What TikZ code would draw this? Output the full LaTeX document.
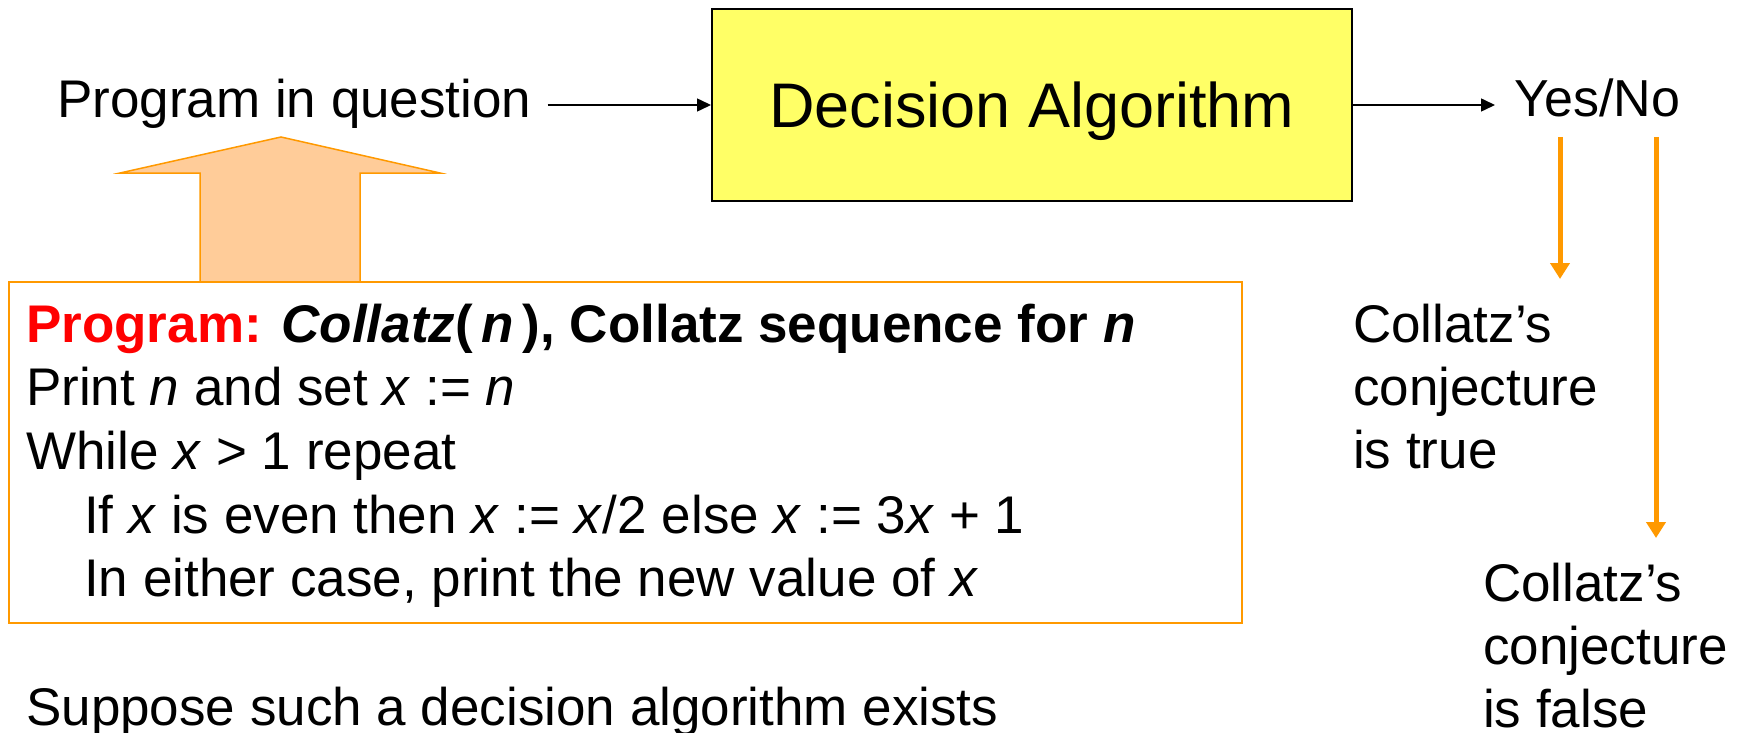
\documentclass[tikz,border=0pt]{standalone}
\usepackage{fontspec}
\setmainfont{Liberation Sans}
\usetikzlibrary{arrows.meta}
\definecolor{boxyellow}{HTML}{FFFF66}
\definecolor{orng}{HTML}{FF9900}
\definecolor{peach}{HTML}{FFCC99}
\begin{document}
\begin{tikzpicture}[x=1pt,y=-1pt,
  lbl/.style={inner sep=0pt, anchor=base west},
  blackarrow/.style={line width=1.5pt, -{Triangle[length=14pt,width=13pt]}},
  orangearrow/.style={draw=orng, line width=5pt, -{Triangle[length=16pt,width=19pt]}},
  multiline/.style={anchor=north west, inner sep=0pt},
]
\useasboundingbox (0,0) rectangle (1745,733);

% top row
\node[lbl, font=\fontsize{53}{63}\selectfont] (pq) at (57,118) {Program in question};
\node[draw, line width=2pt, fill=boxyellow, minimum width=640pt, minimum height=192pt,
      inner sep=0pt, text height=46pt, text depth=0pt,
      font=\fontsize{63}{75}\selectfont] (box) at (1032,105) {Decision Algorithm};
\node[lbl, font=\fontsize{52}{62}\selectfont] (yn) at (1514,117) {Yes/No};

\draw[blackarrow] ([xshift=16pt]pq.east |- box.west) -- (box.west);
\draw[blackarrow] (box.east) -- ([xshift=-19pt]yn.west |- box.east);

% outcome arrows
\coordinate (ts) at (1560,137);
\coordinate (te) at (1560,279);
\coordinate (fs) at (1656,137);
\coordinate (fe) at (1656,538);
\draw[orangearrow] (ts) -- (te);
\draw[orangearrow] (fs) -- (fe);

\node[multiline, font=\fontsize{53}{63}\selectfont] (ctrue) at (1353,297.9)
  {\begin{tabular}{@{}l@{}}Collatz’s\\conjecture\\is true\end{tabular}};
\node[multiline, font=\fontsize{53}{63}\selectfont] (cfalse) at (1483,556.9)
  {\begin{tabular}{@{}l@{}}Collatz’s\\conjecture\\is false\end{tabular}};

% block arrow
\draw[draw=orng, fill=peach, line width=1.5pt]
  (200,281) -- (200,173) -- (120,173) -- (281,137) -- (440,173) -- (360,173) -- (360,281);

% program box
\node[draw=orng, line width=1.5pt, fill=white, inner sep=0pt, minimum width=1233pt,
      minimum height=341pt, anchor=north west] (pbox) at (8,281) {};
\node[multiline, font=\fontsize{53}{63.7}\selectfont] (code) at (26,297.4)
  {\begin{tabular}{@{}l@{}}
   \textcolor{red}{\textbf{Program:}} \textbf{\textit{Collatz}(\,\textit{n}\,), Collatz sequence for \textit{n}}\\
   Print \textit{n} and set \textit{x} := \textit{n}\\
   While \textit{x} > 1 repeat\\
   \hspace*{58pt}If \textit{x} is even then \textit{x} := \textit{x}/2 else \textit{x} := 3\textit{x} + 1\\
   \hspace*{58pt}In either case, print the new value of \textit{x}
   \end{tabular}};

\node[lbl, font=\fontsize{53}{63}\selectfont] (sup) at (26,725) {Suppose such a decision algorithm exists};
\end{tikzpicture}
\end{document}
